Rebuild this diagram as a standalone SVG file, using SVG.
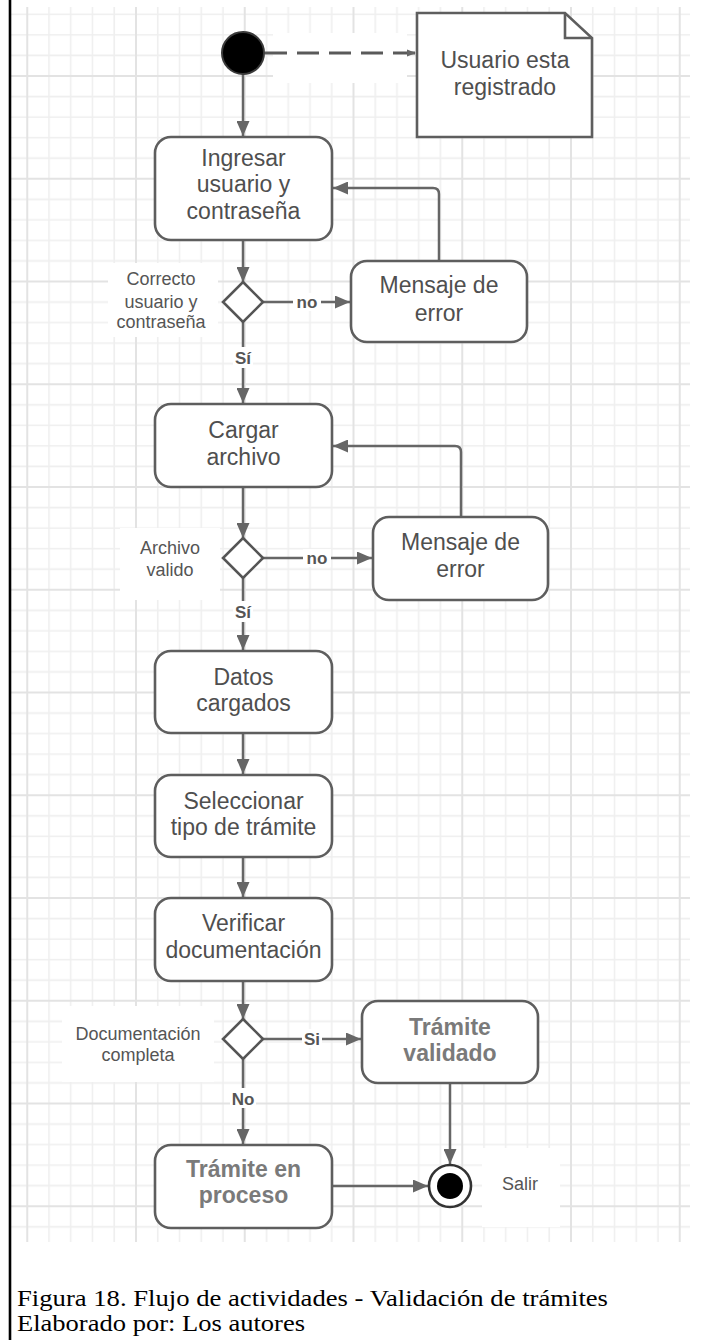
<svg xmlns="http://www.w3.org/2000/svg" width="724" height="1340" viewBox="0 0 724 1340">
  <style>
    .node { fill: #ffffff; stroke: #5e5e5e; stroke-width: 2.6; }
    .gate { fill: #ffffff; stroke: #555555; stroke-width: 2.6; }
    .txt { font-family: "Liberation Sans", Arial, sans-serif; font-size: 23px; fill: #4f4f4f; text-anchor: middle; }
    .txtb { font-family: "Liberation Sans", Arial, sans-serif; font-size: 23px; font-weight: bold; fill: #7a7a7a; text-anchor: middle; }
    .lbl { font-family: "Liberation Sans", Arial, sans-serif; font-size: 18px; fill: #555555; text-anchor: middle; }
    .guard { font-family: "Liberation Sans", Arial, sans-serif; font-size: 17px; font-weight: bold; fill: #555555; text-anchor: middle; }
    .flow { fill: none; stroke: #666666; stroke-width: 2.5; marker-end: url(#arrow); }
    .cap { font-family: "Liberation Serif", "Times New Roman", serif; font-size: 23px; fill: #000000; }
    .blank { fill: #ffffff; }
  </style>
  <defs>
    <pattern id="grid" patternUnits="userSpaceOnUse" x="135" y="75" width="108.75" height="102.75">
      <g stroke="#efefef" stroke-width="1.6">
        <line x1="22.75" y1="0" x2="22.75" y2="102.75"/>
        <line x1="44.5" y1="0" x2="44.5" y2="102.75"/>
        <line x1="66.25" y1="0" x2="66.25" y2="102.75"/>
        <line x1="88" y1="0" x2="88" y2="102.75"/>
        <line x1="0" y1="21.55" x2="108.75" y2="21.55"/>
        <line x1="0" y1="42.1" x2="108.75" y2="42.1"/>
        <line x1="0" y1="62.65" x2="108.75" y2="62.65"/>
        <line x1="0" y1="83.2" x2="108.75" y2="83.2"/>
      </g>
      <g stroke="#e3e3e3" stroke-width="2">
        <line x1="1" y1="0" x2="1" y2="102.75"/>
        <line x1="0" y1="1" x2="108.75" y2="1"/>
      </g>
    </pattern>
    <marker id="arrow" markerUnits="userSpaceOnUse" markerWidth="16" markerHeight="13" refX="15" refY="6.5" orient="auto">
      <path d="M0,0 L15,6.5 L0,13 Z" fill="#666666"/>
    </marker>
    <marker id="dash-arrow" markerUnits="userSpaceOnUse" markerWidth="10" markerHeight="8" refX="9" refY="4" orient="auto">
      <path d="M0,0.5 L9,4 L0,7.5 Z" fill="#666666"/>
    </marker>
  </defs>

  <!-- page and grid -->
  <rect x="0" y="0" width="724" height="1340" fill="#ffffff"/>
  <rect x="10" y="7" width="680" height="1235" fill="url(#grid)"/>
  <line x1="10" y1="0" x2="10" y2="1340" stroke="#000000" stroke-width="2.6"/>

  <!-- clear areas behind free-standing labels -->
  <g id="label-backs">
    <rect class="blank" x="273" y="33" width="134" height="50"/>
    <rect class="blank" x="108" y="263" width="110" height="74"/>
    <rect class="blank" x="120" y="528" width="100" height="72"/>
    <rect class="blank" x="62" y="1006" width="152" height="76"/>
    <rect class="blank" x="482" y="1148" width="78" height="79"/>
  </g>

  <!-- connectors -->
  <g id="connectors">
    <line x1="265" y1="53" x2="416" y2="53" fill="none" stroke="#5a5a5a" stroke-width="3" stroke-dasharray="22 10" marker-end="url(#dash-arrow)"/>
    <line class="flow" x1="243" y1="74" x2="243" y2="136"/>
    <line class="flow" x1="243" y1="240" x2="243" y2="282"/>
    <line class="flow" x1="263" y1="302" x2="350" y2="302"/>
    <path class="flow" d="M439,261 V194 Q439,188 433,188 H333"/>
    <line class="flow" x1="243" y1="322" x2="243" y2="403"/>
    <line class="flow" x1="243" y1="487" x2="243" y2="538"/>
    <line class="flow" x1="263" y1="558" x2="372" y2="558"/>
    <path class="flow" d="M461,517 V452 Q461,446 455,446 H333"/>
    <line class="flow" x1="243" y1="578" x2="243" y2="650"/>
    <line class="flow" x1="243" y1="733" x2="243" y2="774"/>
    <line class="flow" x1="243" y1="857" x2="243" y2="897"/>
    <line class="flow" x1="243" y1="981" x2="243" y2="1019"/>
    <line class="flow" x1="263" y1="1039" x2="361" y2="1039"/>
    <line class="flow" x1="243" y1="1059" x2="243" y2="1144"/>
    <line class="flow" x1="450" y1="1083" x2="450" y2="1164"/>
    <line class="flow" x1="332" y1="1186" x2="428" y2="1186"/>

    <!-- guard labels -->
    <rect class="blank" x="293" y="293" width="28" height="18"/>
    <text class="guard" x="307" y="308">no</text>
    <rect class="blank" x="233" y="347" width="20" height="21"/>
    <text class="guard" x="243" y="364">Sí</text>
    <rect class="blank" x="303" y="549" width="28" height="18"/>
    <text class="guard" x="317" y="564">no</text>
    <rect class="blank" x="233" y="601" width="20" height="21"/>
    <text class="guard" x="243" y="618">Sí</text>
    <rect class="blank" x="302" y="1029" width="20" height="19"/>
    <text class="guard" x="312" y="1045">Si</text>
    <rect class="blank" x="230" y="1088" width="26" height="20"/>
    <text class="guard" x="243" y="1105">No</text>
  </g>

  <!-- initial state -->
  <g id="start">
    <circle cx="243" cy="53" r="21" fill="#000000" stroke="#3a3a3a" stroke-width="2"/>
  </g>

  <!-- note -->
  <g id="note-registrado">
    <path d="M417,13 H565 L592,38 V137 H417 Z" fill="#ffffff" stroke="#5e5e5e" stroke-width="2.6"/>
    <path d="M565,13 V38 H592" fill="none" stroke="#5e5e5e" stroke-width="2.6"/>
    <text class="txt" x="505" y="68">Usuario esta</text>
    <text class="txt" x="505" y="95">registrado</text>
  </g>

  <g id="ingresar-usuario">
    <rect class="node" x="155" y="137" width="177" height="103" rx="16"/>
    <text class="txt" x="243.5" y="166">Ingresar</text>
    <text class="txt" x="243.5" y="192">usuario y</text>
    <text class="txt" x="243.5" y="219">contraseña</text>
  </g>

  <g id="decision-usuario">
    <path class="gate" d="M243,282 L263,302 L243,322 L223,302 Z"/>
    <text class="lbl" x="161" y="284.5">Correcto</text>
    <text class="lbl" x="161" y="307.5">usuario y</text>
    <text class="lbl" x="161" y="328">contraseña</text>
  </g>

  <g id="error-usuario">
    <rect class="node" x="351" y="261" width="176" height="81" rx="16"/>
    <text class="txt" x="439" y="293">Mensaje de</text>
    <text class="txt" x="439" y="321">error</text>
  </g>

  <g id="cargar-archivo">
    <rect class="node" x="155" y="404" width="177" height="83" rx="16"/>
    <text class="txt" x="243.5" y="438">Cargar</text>
    <text class="txt" x="243.5" y="465">archivo</text>
  </g>

  <g id="decision-archivo">
    <path class="gate" d="M243,538 L263,558 L243,578 L223,558 Z"/>
    <text class="lbl" x="170" y="553.5">Archivo</text>
    <text class="lbl" x="170" y="575.5">valido</text>
  </g>

  <g id="error-archivo">
    <rect class="node" x="373" y="517" width="175" height="83" rx="16"/>
    <text class="txt" x="460.5" y="550">Mensaje de</text>
    <text class="txt" x="460.5" y="577">error</text>
  </g>

  <g id="datos-cargados">
    <rect class="node" x="155" y="651" width="177" height="82" rx="16"/>
    <text class="txt" x="243.5" y="685">Datos</text>
    <text class="txt" x="243.5" y="711">cargados</text>
  </g>

  <g id="seleccionar-tipo">
    <rect class="node" x="155" y="775" width="177" height="82" rx="16"/>
    <text class="txt" x="243.5" y="809">Seleccionar</text>
    <text class="txt" x="243.5" y="835">tipo de trámite</text>
  </g>

  <g id="verificar-documentacion">
    <rect class="node" x="155" y="898" width="177" height="83" rx="16"/>
    <text class="txt" x="243.5" y="931">Verificar</text>
    <text class="txt" x="243.5" y="958">documentación</text>
  </g>

  <g id="decision-documentacion">
    <path class="gate" d="M243,1019 L263,1039 L243,1059 L223,1039 Z"/>
    <text class="lbl" x="138" y="1039.5">Documentación</text>
    <text class="lbl" x="138" y="1060.5">completa</text>
  </g>

  <g id="tramite-validado">
    <rect class="node" x="362" y="1001" width="176" height="82" rx="16"/>
    <text class="txtb" x="450" y="1035">Trámite</text>
    <text class="txtb" x="450" y="1061">validado</text>
  </g>

  <g id="tramite-en-proceso">
    <rect class="node" x="155" y="1145" width="177" height="83" rx="16"/>
    <text class="txtb" x="243.5" y="1177">Trámite en</text>
    <text class="txtb" x="243.5" y="1203">proceso</text>
  </g>

  <g id="final">
    <circle cx="450" cy="1186" r="21" fill="#ffffff" stroke="#333333" stroke-width="2.6"/>
    <circle cx="450" cy="1186" r="13" fill="#000000"/>
    <text class="lbl" x="520" y="1189.5">Salir</text>
  </g>

  <!-- caption -->
  <g id="caption">
    <text class="cap" x="17" y="1306" textLength="591" lengthAdjust="spacingAndGlyphs">Figura 18. Flujo de actividades - Validación de trámites</text>
    <text class="cap" x="17" y="1331" textLength="288" lengthAdjust="spacingAndGlyphs">Elaborado por: Los autores</text>
  </g>
</svg>
